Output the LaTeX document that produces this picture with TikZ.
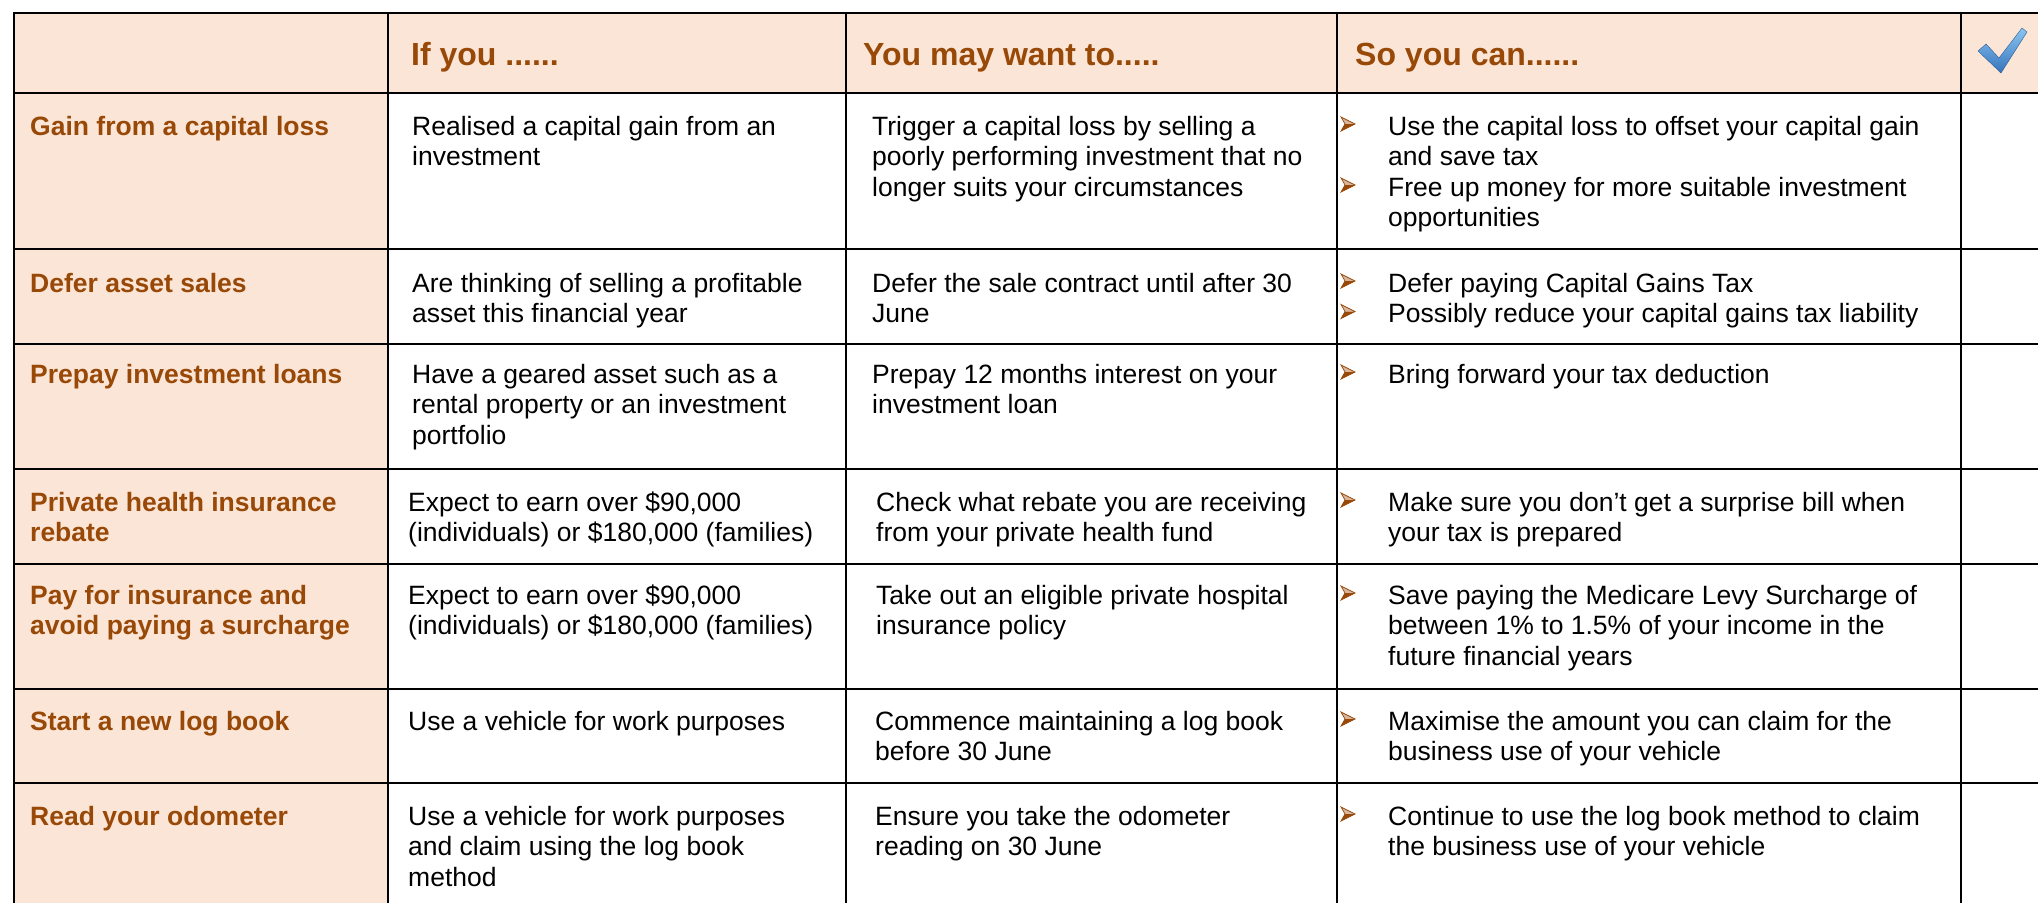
\documentclass[tikz,border=0pt]{standalone}
\usepackage{fontspec}
\setmainfont{Liberation Sans}
\definecolor{peach}{HTML}{FBE5D6}
\definecolor{brownt}{HTML}{984807}
\definecolor{chkhi}{HTML}{8CC6F0}
\definecolor{chklo}{HTML}{3574BC}
\tikzset{
  body/.style={anchor=north west, inner sep=0pt, align=left, font=\fontsize{26.5}{30.5}\selectfont},
  lab/.style={body, text=brownt, font=\fontsize{26.5}{30.5}\selectfont\bfseries},
  head/.style={anchor=base west, inner sep=0pt, text=brownt, font=\fontsize{32}{36}\selectfont\bfseries},
  gridline/.style={line width=2.5pt, black},
  bullet/.pic={
    \fill[brownt!40] (-7,-7) -- (7,0) -- (-3,0) -- cycle;
    \fill[brownt] (-3,0) -- (7,0) -- (-7,7) -- cycle;
    \draw[brownt, line width=0.7pt, line join=miter] (-7,-7) -- (7,0) -- (-7,7) -- (-3,0) -- cycle;
  }
}
\begin{document}
\begin{tikzpicture}[x=1pt,y=-1pt]
\useasboundingbox (0,0) rectangle (2038,903);
\fill[white] (0,0) rectangle (2038,903);
% shaded header row and first column
\fill[peach] (14,13) rectangle (2038,93);
\fill[peach] (14,93) rectangle (388,903);
% grid
\foreach \yy in {13,93,249,344,469,564,689,783}
  \draw[gridline] (12.75,\yy) -- (2038,\yy);
\foreach \xx in {14,388,846,1337,1961}
  \draw[gridline] (\xx,11.75) -- (\xx,903);

% header
\node[head] (h1) at (411,65) {If you ......};
\node[head] (h2) at (863,65) {You may want to.....};
\node[head] (h3) at (1355,65) {So you can......};
\shade[top color=chkhi, bottom color=chklo, draw=chklo!80!black, line width=0.4pt, line join=round]
  (1978,51) -- (1986,44) -- (1999,58) -- (2022,28) -- (2027,32) -- (2001,73) -- cycle;

% column 1 labels
\node[lab] (l1) at (30,113.65) {\strut Gain from a capital loss};
\node[lab] (l2) at (30,270.65) {\strut Defer asset sales};
\node[lab] (l3) at (30,361.65) {\strut Prepay investment loans};
\node[lab] (l4) at (30,489.65) {\strut Private health insurance\\\strut rebate};
\node[lab] (l5) at (30,582.65) {\strut Pay for insurance and\\\strut avoid paying a surcharge};
\node[lab] (l6) at (30,708.65) {\strut Start a new log book};
\node[lab] (l7) at (30,803.65) {\strut Read your odometer};

% column 2
\node[body] (a1) at (412,113.65) {\strut Realised a capital gain from an\\\strut investment};
\node[body] (a2) at (412,270.65) {\strut Are thinking of selling a profitable\\\strut asset this financial year};
\node[body] (a3) at (412,361.65) {\strut Have a geared asset such as a\\\strut rental property or an investment\\\strut portfolio};
\node[body] (a4) at (408,489.65) {\strut Expect to earn over \$90,000\\\strut (individuals) or \$180,000 (families)};
\node[body] (a5) at (408,582.65) {\strut Expect to earn over \$90,000\\\strut (individuals) or \$180,000 (families)};
\node[body] (a6) at (408,708.65) {\strut Use a vehicle for work purposes};
\node[body] (a7) at (408,803.65) {\strut Use a vehicle for work purposes\\\strut and claim using the log book\\\strut method};

% column 3
\node[body] (b1) at (872,113.65) {\strut Trigger a capital loss by selling a\\\strut poorly performing investment that no\\\strut longer suits your circumstances};
\node[body] (b2) at (872,270.65) {\strut Defer the sale contract until after 30\\\strut June};
\node[body] (b3) at (872,361.65) {\strut Prepay 12 months interest on your\\\strut investment loan};
\node[body] (b4) at (876,489.65) {\strut Check what rebate you are receiving\\\strut from your private health fund};
\node[body] (b5) at (876,582.65) {\strut Take out an eligible private hospital\\\strut insurance policy};
\node[body] (b6) at (875,708.65) {\strut Commence maintaining a log book\\\strut before 30 June};
\node[body] (b7) at (875,803.65) {\strut Ensure you take the odometer\\\strut reading on 30 June};

% column 4
\node[body] (c1) at (1388,113.65) {\strut Use the capital loss to offset your capital gain\\\strut and save tax\\\strut Free up money for more suitable investment\\\strut opportunities};
\node[body] (c2) at (1388,270.65) {\strut Defer paying Capital Gains Tax\\\strut Possibly reduce your capital gains tax liability};
\node[body] (c3) at (1388,361.65) {\strut Bring forward your tax deduction};
\node[body] (c4) at (1388,489.65) {\strut Make sure you don’t get a surprise bill when\\\strut your tax is prepared};
\node[body] (c5) at (1388,582.65) {\strut Save paying the Medicare Levy Surcharge of\\\strut between 1\% to 1.5\% of your income in the\\\strut future financial years};
\node[body] (c6) at (1388,708.65) {\strut Maximise the amount you can claim for the\\\strut business use of your vehicle};
\node[body] (c7) at (1388,803.65) {\strut Continue to use the log book method to claim\\\strut the business use of your vehicle};

% bullets
\foreach \by in {124,185,281,311.5,372,500,593,719,814}
  \pic at (1348,\by) {bullet};
\end{tikzpicture}
\end{document}
